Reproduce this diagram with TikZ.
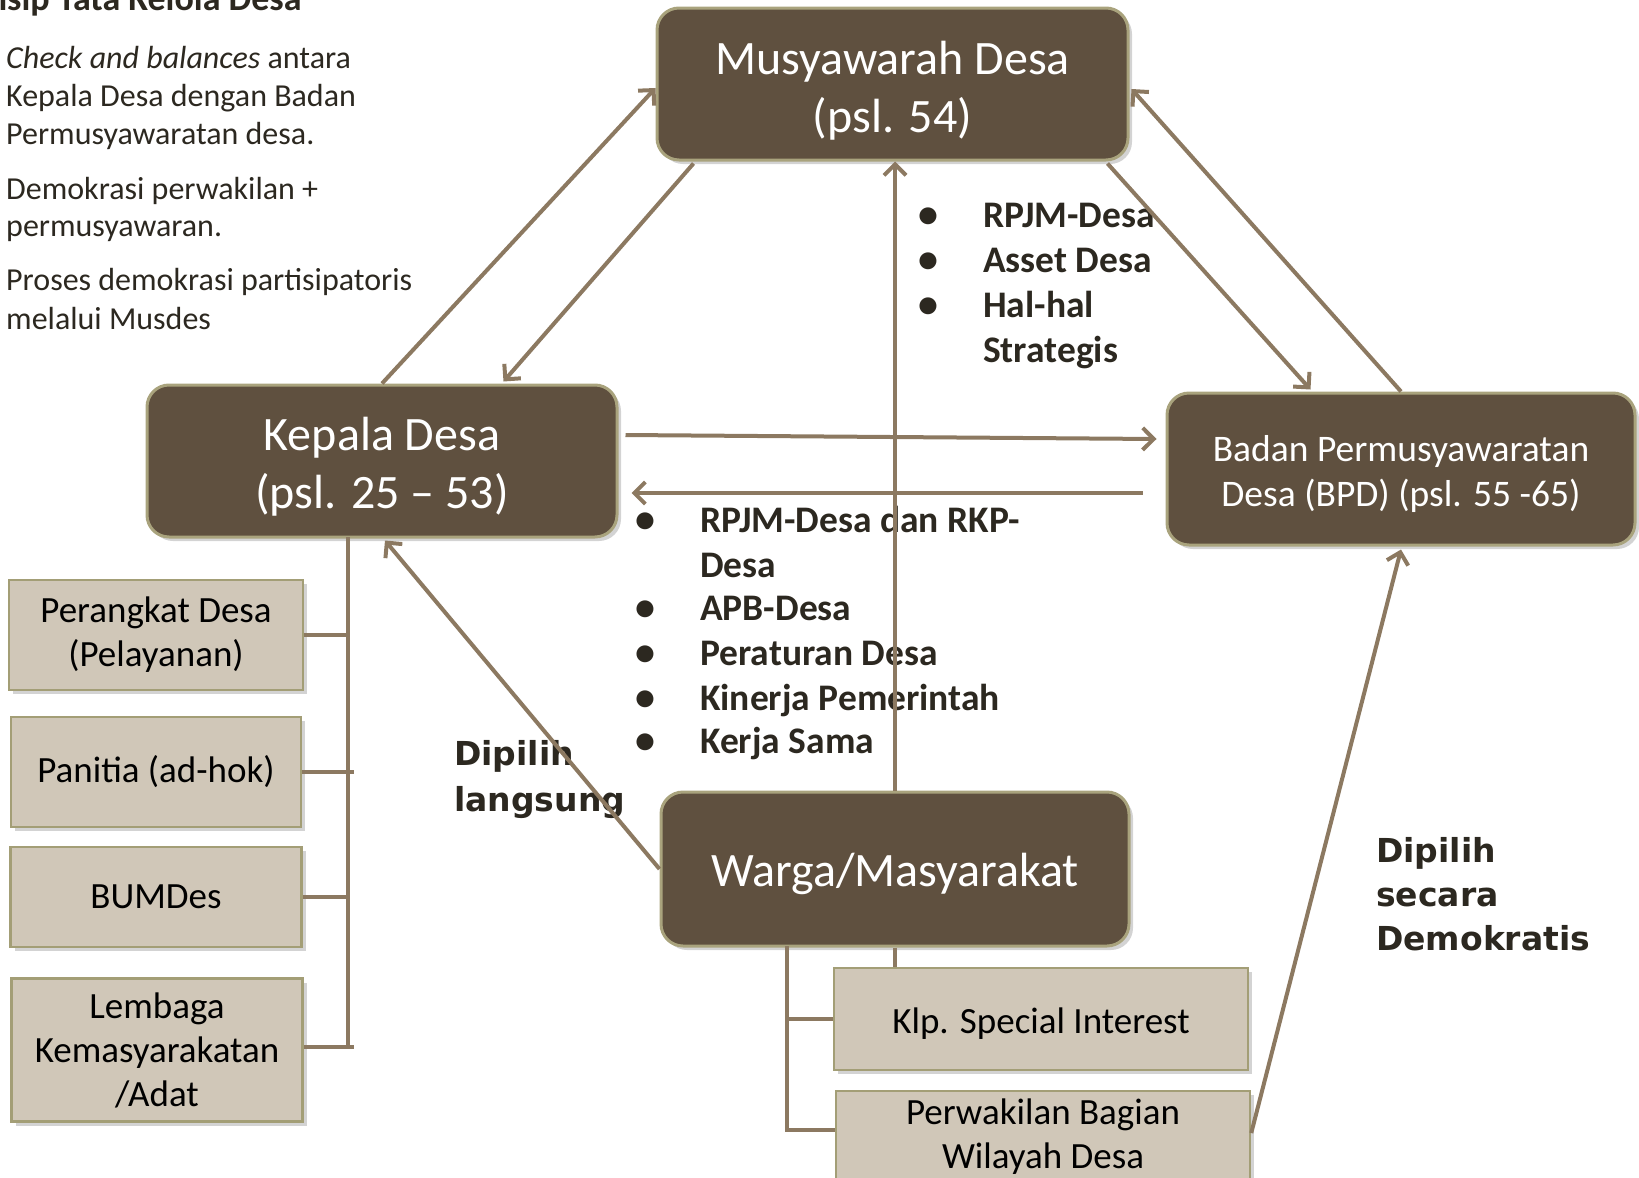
\documentclass[tikz,border=0pt]{standalone}
\usepackage{fontspec}
\setmainfont{Carlito}
\newfontfamily\dvfont{DejaVu Sans}
\usetikzlibrary{arrows.meta,shadows,calc}
\definecolor{boxdark}{HTML}{5F503F}
\definecolor{boxedge}{HTML}{A9A37D}
\definecolor{boxlight}{HTML}{D0C7B8}
\definecolor{lightedge}{HTML}{A39E76}
\definecolor{conn}{HTML}{8C7961}
\definecolor{txt}{HTML}{2C2820}
\tikzset{
  bigbox/.style={draw=boxedge, line width=3pt, fill=boxdark, rounded corners=22pt,
    text=white, align=center, inner sep=0pt,
    drop shadow={opacity=0.35, shadow xshift=4pt, shadow yshift=-4pt}},
  smallbox/.style={draw=lightedge, line width=2.5pt, fill=boxlight, text=black,
    align=center, inner sep=0pt, font=\fontsize{37}{44}\selectfont,
    drop shadow={opacity=0.35, shadow xshift=4pt, shadow yshift=-4pt}},
  arr/.style={draw=conn, line width=4pt, -{Straight Barb[length=11pt,width=22pt]}},
  ln/.style={draw=conn, line width=4pt},
  lefttext/.style={anchor=base west, text=txt, inner sep=0pt, font=\fontsize{32}{38}\selectfont},
  bultext/.style={anchor=base west, text=txt, inner sep=0pt, font=\fontsize{37.5}{44}\selectfont\bfseries},
  bul/.style={anchor=base, text=txt, inner sep=0pt, font=\fontsize{40}{44}\selectfont\bfseries},
  lbl/.style={anchor=base west, text=txt, inner sep=0pt, font=\dvfont\fontsize{33}{44}\selectfont\bfseries},
}
\begin{document}
\begin{tikzpicture}[x=1pt, y=-1pt]
\useasboundingbox (0,0) rectangle (1639,1178);

% title and left text
\node[anchor=base west, text=txt, inner sep=0pt, font=\fontsize{36}{40}\selectfont\bfseries] (title) at (7,10) {\llap{Prin}sip Tata Kelola Desa};
\node[lefttext] (l1) at (6,68) {\textit{Check and balances} antara};
\node[lefttext] (l2) at (6,106) {Kepala Desa dengan Badan};
\node[lefttext] (l3) at (6,144) {Permusyawaratan desa.};
\node[lefttext] (l4) at (6,199) {Demokrasi perwakilan +};
\node[lefttext] (l5) at (6,236) {permusyawaran.};
\node[lefttext] (l6) at (6,290) {Proses demokrasi partisipatoris};
\node[lefttext] (l7) at (6,329) {melalui Musdes};

% main boxes
\node[bigbox, minimum width=471pt, minimum height=152pt, font=\fontsize{48}{58}\selectfont] (musy) at (892.5,84) {\rule{0pt}{46pt}Musyawarah Desa\\(psl. 54)};
\node[bigbox, minimum width=470pt, minimum height=152pt, font=\fontsize{48}{58}\selectfont] (kep) at (382,461) {\rule{0pt}{44pt}Kepala Desa\\(psl. 25 -- 53)};
\node[bigbox, minimum width=468pt, minimum height=152pt, font=\fontsize{37.5}{45}\selectfont] (bpd) at (1401,469) {\rule{0pt}{36pt}Badan Permusyawaratan\\Desa (BPD) (psl. 55 -65)};
\node[bigbox, minimum width=468pt, minimum height=154pt, font=\fontsize{48}{58}\selectfont] (warga) at (895,869) {\rule{0pt}{43pt}Warga/Masyarakat};

% small boxes
\node[smallbox, minimum width=294pt, minimum height=110pt] (per) at (156,635) {Perangkat Desa\\(Pelayanan)};
\node[smallbox, minimum width=290pt, minimum height=110pt] (pan) at (156,772) {Panitia (ad-hok)};
\node[smallbox, minimum width=291pt, minimum height=100pt] (bum) at (156,897) {BUMDes};
\node[smallbox, minimum width=291pt, minimum height=143pt] (lem) at (157,1050) {Lembaga\\Kemasyarakatan\\/Adat};
\node[smallbox, minimum width=414pt, minimum height=102pt] (klp) at (1041,1019) {\rule{0pt}{34pt}Klp. Special Interest};
\node[smallbox, minimum width=414pt, minimum height=92pt] (pwk) at (1043,1137) {Perwakilan Bagian\\Wilayah Desa};

% bullet lists
\node[bul] (ba1) at (928,227) {•};
\node[bul] (ba2) at (928,272) {•};
\node[bul] (ba3) at (928,317) {•};
\node[bultext] (ta1) at (983,227) {RPJM-Desa};
\node[bultext] (ta2) at (983,272) {Asset Desa};
\node[bultext] (ta3) at (983,317) {Hal-hal};
\node[bultext] (ta4) at (983,362) {Strategis};

\node[bul] (bb1) at (645,532) {•};
\node[bul] (bb2) at (645,620) {•};
\node[bul] (bb3) at (645,665) {•};
\node[bul] (bb4) at (645,710) {•};
\node[bul] (bb5) at (645,753) {•};
\node[bultext] (tb1) at (700,532) {RPJM-Desa dan RKP-};
\node[bultext] (tb2) at (700,577) {Desa};
\node[bultext] (tb3) at (700,620) {APB-Desa};
\node[bultext] (tb4) at (700,665) {Peraturan Desa};
\node[bultext] (tb5) at (700,710) {Kinerja Pemerintah};
\node[bultext] (tb6) at (700,753) {Kerja Sama};

% labels
\node[lbl] (dl1) at (454,765) {Dipilih};
\node[lbl] (dl2) at (454,811) {langsung};
\node[lbl] (dd1) at (1376,862) {Dipilih};
\node[lbl] (dd2) at (1376,906) {secara};
\node[lbl] (dd3) at (1376,950) {Demokratis};

% bracket lines
\coordinate (kb1) at (348,537);
\coordinate (kb2) at (348,1047);
\draw[ln] (kb1) -- (kb2);
\draw[ln] (per.east) -- (per.east -| kb1);
\draw[ln] (pan.east) -- ($(pan.east -| kb1)+(6,0)$);
\draw[ln] (bum.east) -- (bum.east -| kb1);
\draw[ln] ($(lem.east)+(0,-3)$) -- ($(lem.east -| kb1)+(6,-3)$);

\coordinate (wb1) at (787,946);
\coordinate (wb2) at (787,1132);
\draw[ln] (wb1) -- (wb2);
\draw[ln] (klp.west -| wb1) -- (klp.west);
\draw[ln] ($(wb2)+(-2,-2)$) -- ($(pwk.west)+(0,-7)$);
\draw[ln] (warga.south) -- (warga.south |- klp.north);

% arrows
\draw[arr] (kep.north) -- ($(musy.west)+(0,4)$);
\draw[arr] ($(musy.south west)+(38,2)$) -- ($(kep.north west)+(358,-2)$);
\draw[arr] (bpd.north) -- ($(musy.east)+(2,5)$);
\draw[arr] ($(musy.south east)+(-22,2)$) -- ($(bpd.north west)+(145,-2)$);
\draw[arr] (warga.north) -- (warga.north |- musy.south);
\draw[arr] ($(kep.east)+(7,-26)$) -- ($(bpd.west)+(-9,-30)$);
\draw[arr] ($(bpd.west)+(-23,24)$) -- ($(kep.east)+(13,32)$);
\draw[arr] (warga.west) -- ($(kep.south)+(3,2)$);
\draw[arr] ($(pwk.east)+(0,-4)$) -- ($(bpd.south)+(0,3)$);
\end{tikzpicture}
\end{document}
